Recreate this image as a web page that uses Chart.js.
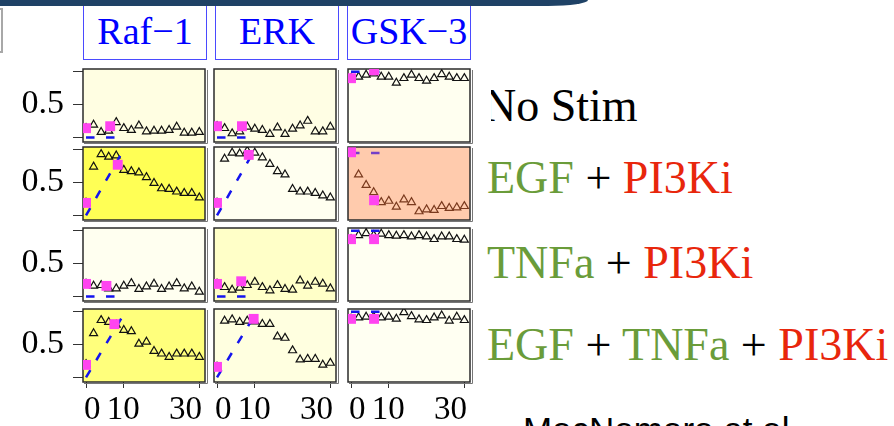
<!DOCTYPE html>
<html>
<head>
<meta charset="utf-8">
<script src="https://cdn.jsdelivr.net/npm/chart.js@4.4.0/dist/chart.umd.min.js"></script>
<style>
  body { margin: 0; width: 894px; height: 426px; overflow: hidden; background: #fff; position: relative; font-family: "Liberation Serif", serif; }
  .topbar { position: absolute; left: 0; top: 0; width: 588px; height: 6px; background: #1f4266; border-bottom-right-radius: 40px 6px; z-index: 5; }
  .sidebox { position: absolute; left: -20px; top: 8px; width: 23px; height: 45px; border: 2px solid #a8a8a8; box-sizing: border-box; }
  .strip { position: absolute; top: -2px; height: 62px; width: 124px; border: 1px solid #4a4aff; box-sizing: border-box;
           color: #0000ff; font-size: 38px; line-height: 38px; padding-top: 13px; text-align: center; white-space: nowrap; }
  .cond { position: absolute; left: 487px; font-size: 46px; line-height: 46px; white-space: nowrap; color: #000; }
  .g { color: #6a9c3a; }
  .r { color: #e8260c; }
  .mask { position: absolute; left: 474px; top: 74px; width: 17px; height: 60px; background: #fff; z-index: 3; }
  .cite { position: absolute; left: 523px; top: 412px; font-family: "Liberation Sans", sans-serif; font-size: 35px; line-height: 35px; white-space: nowrap; }
  canvas { position: absolute; z-index: 1; }
</style>
</head>
<body>
<div class="topbar"></div>
<div class="sidebox"></div>
<div class="cond" style="left:483px; top:83px;">No Stim</div>
<div class="mask"></div>
<div class="cond" style="top:155px;"><span class="g">EGF</span> + <span class="r">PI3Ki</span></div>
<div class="cond" style="top:240px;"><span class="g">TNFa</span> + <span class="r">PI3Ki</span></div>
<div class="cond" style="top:322px;"><span class="g">EGF</span> + <span class="g">TNFa</span> + <span class="r">PI3Ki</span></div>
<div class="cite">MacNamara et al</div>

<script>
const times = [0, 2, 4, 6, 8, 10, 12, 14, 16, 18, 20, 22, 24, 26, 28, 30];
const readouts = ['Raf−1', 'ERK', 'GSK−3'];
const xTicks = [0, 10, 30];
const yTicks = [0, 0.5, 1];

// triangles, one row per condition: No Stim, EGF+PI3Ki, TNFa+PI3Ki, EGF+TNFa+PI3Ki
const rafTri = [
  [.14, .19, .08, .10, .23, .14, .11, .18, .09, .10, .10, .11, .16, .07, .07, .08],
  [.19, .74, .93, .89, .91, .69, .67, .65, .58, .49, .41, .40, .36, .34, .34, .27],
  [.19, .16, .17, .12, .12, .16, .20, .11, .15, .19, .11, .15, .20, .12, .15, .07],
  [.20, .67, .87, .84, .80, .72, .70, .51, .54, .40, .36, .31, .36, .36, .36, .31]
];
const erkTri = [
  [.17, .14, .06, .09, .16, .13, .11, .05, .15, .05, .13, .18, .25, .09, .09, .16],
  [.19, .86, .95, .94, .98, .95, .88, .78, .67, .62, .40, .36, .36, .34, .30, .27],
  [.19, .14, .10, .13, .17, .22, .14, .09, .17, .11, .10, .24, .16, .22, .19, .12],
  [.16, .86, .88, .84, .86, .85, .81, .81, .62, .60, .41, .27, .28, .28, .19, .22]
];
const gskTri = [
  [.90, .92, .95, .97, .92, .92, .83, .90, .95, .90, .86, .90, .96, .92, .90, .90],
  [.96, .62, .46, .35, .20, .22, .13, .24, .20, .06, .09, .08, .14, .11, .12, .14],
  [.87, .93, .96, .93, .95, .93, .92, .93, .91, .93, .91, .87, .91, .91, .87, .86],
  [.89, .91, .92, .92, .91, .92, .89, .99, .93, .88, .87, .91, .94, .86, .92, .87]
];

// magenta squares: times and values
const rafSqT = [[0, 6.4], [0, 8.4], [0, 5.4], [0, 7.5]];
const rafSqV = [[.14, .17], [.19, .77], [.19, .16], [.19, .81]];
const erkSqT = [[0, 6.6], [0, 8.4], [0, 6.4], [0, 9.7]];
const erkSqV = [[.17, .17], [.19, .92], [.19, .23], [.16, .89]];
const gskSqT = [[0, 6.1], [0, 6.1], [0, 6.1], [0, 6.1]];
const gskSqV = [[.90, 1.02], [.96, .23], [.87, .87], [.89, .89]];

// dashed blue lines
const fitT = [0, 10];
const rafFitV = [[0, 0], [0, 1], [0, 0], [0, .96]];
const erkFitV = [[0, 0], [0, 1], [0, 0], [0, .95]];
const gskFitV = [[1, 1], [.95, .95], [1, 1], [1, 1]];

const triAll = [rafTri, erkTri, gskTri];
const sqTAll = [rafSqT, erkSqT, gskSqT];
const sqVAll = [rafSqV, erkSqV, gskSqV];
const fitAll = [rafFitV, erkFitV, gskFitV];

// layout / styles
const colX = [83, 214, 348];
const stripX = [83, 215, 347];
const rowY = [69, 147, 228, 309];
const panelW = 122, panelH = 73;
const bgColors = [
  ['#fffee2', '#fffee4', '#fffff0'],
  ['#ffff55', '#fffff0', '#ffcbad'],
  ['#fffff0', '#ffffc8', '#fffff2'],
  ['#ffff7c', '#ffffe0', '#fffff2']
];
const serif = '"Liberation Serif", "Times New Roman", serif';

readouts.forEach((name, c) => {
  const d = document.createElement('div');
  d.className = 'strip';
  d.style.left = stripX[c] + 'px';
  d.textContent = name;
  document.body.appendChild(d);
});

const panelFrame = {
  id: 'panelFrame',
  beforeDatasetsDraw(chart, args, opts) {
    const { ctx, chartArea: a } = chart;
    ctx.save();
    ctx.fillStyle = opts.bg;
    ctx.fillRect(a.left, a.top, a.width, a.height);
    ctx.strokeStyle = '#777';
    ctx.lineWidth = 1;
    ctx.beginPath();
    ctx.moveTo(a.right + 2.5, a.top + 1);
    ctx.lineTo(a.right + 2.5, a.bottom + 1.5);
    ctx.lineTo(a.left + 1, a.bottom + 1.5);
    ctx.stroke();
    ctx.strokeStyle = '#2b2b2b';
    ctx.lineWidth = 1.5;
    ctx.strokeRect(a.left, a.top, a.width, a.height);
    ctx.restore();
  }
};

// fixed axis sizes so every panel's plot area lands on the same grid
function fixSize(s, w, h) {
  if (w !== null) s.width = w;
  if (h !== null) s.height = h;
  s.paddingTop = s.paddingBottom = s.paddingLeft = s.paddingRight = 0;
}

function makePanel(r, c) {
  const isLeft = c === 0, isBottom = r === 3;
  const padL = isLeft ? colX[0] : 8, padT = 8, padR = 8, padB = isBottom ? 44 : 8;
  const canvas = document.createElement('canvas');
  canvas.width = panelW + padL + padR;
  canvas.height = panelH + padT + padB;
  canvas.style.left = (colX[c] - padL) + 'px';
  canvas.style.top = (rowY[r] - padT) + 'px';
  document.body.appendChild(canvas);

  const tri = triAll[c][r].map((v, i) => ({ x: times[i], y: v }));
  const sq = sqTAll[c][r].map((t, i) => ({ x: t, y: sqVAll[c][r][i] }));
  const fit = fitT.map((t, i) => ({ x: t, y: fitAll[c][r][i] }));
  const salmon = bgColors[r][c] === '#ffcbad';

  new Chart(canvas, {
    type: 'scatter',
    data: {
      datasets: [
        { data: sq, pointStyle: 'rect', pointRadius: 7, pointBackgroundColor: '#ff44f0', pointBorderWidth: 0, order: 0 },
        { data: fit, showLine: true, borderColor: salmon ? '#7440c8' : '#1414ee', borderWidth: 2.5,
          borderDash: [8.5, 11.5], pointRadius: 0, fill: false, order: 1 },
        { data: tri, pointStyle: 'triangle', pointRadius: 4.6, pointBorderWidth: 1.2,
          pointBorderColor: salmon ? '#7a3a1e' : '#111', pointBackgroundColor: 'rgba(0,0,0,0)', order: 2 }
      ]
    },
    options: {
      responsive: false,
      animation: false,
      events: [],
      layout: { autoPadding: false, padding: { left: isLeft ? 0 : padL, top: padT, right: padR, bottom: isBottom ? 0 : padB } },
      plugins: { legend: { display: false }, tooltip: { enabled: false }, panelFrame: { bg: bgColors[r][c] } },
      scales: {
        x: {
          type: 'linear', min: -0.8, max: 31.5, display: isBottom, position: 'bottom', weight: 0,
          border: { display: false },
          grid: { drawOnChartArea: false, drawTicks: true, tickLength: 6, color: '#333' },
          ticks: { display: false },
          afterBuildTicks: s => { s.ticks = xTicks.map(v => ({ value: v })); },
          afterFit: s => fixSize(s, null, isBottom ? 6 : 0)
        },
        xl: {
          type: 'linear', min: -3.0, max: 36.3, display: isBottom, position: 'bottom', weight: 1,
          border: { display: false },
          grid: { display: false, drawTicks: false },
          ticks: { font: { family: serif, size: 33 }, color: '#000', padding: 3, maxRotation: 0, autoSkip: false },
          afterBuildTicks: s => { s.ticks = xTicks.map(v => ({ value: v })); },
          afterFit: s => fixSize(s, null, isBottom ? 38 : 0)
        },
        y: {
          type: 'linear', min: -0.07, max: 1.04, display: isLeft,
          border: { display: false },
          grid: { drawOnChartArea: false, drawTicks: true, tickLength: 10, color: '#333' },
          ticks: { font: { family: serif, size: 34 }, color: '#000', padding: 9, autoSkip: false,
                   callback: v => (v === 0.5 ? '0.5' : '') },
          afterBuildTicks: s => { s.ticks = yTicks.map(v => ({ value: v })); },
          afterFit: s => fixSize(s, isLeft ? colX[0] : 0, null)
        }
      }
    },
    plugins: [panelFrame]
  });
}

for (let r = 0; r < 4; r++) {
  for (let c = 0; c < 3; c++) makePanel(r, c);
}
</script>
</body>
</html>
